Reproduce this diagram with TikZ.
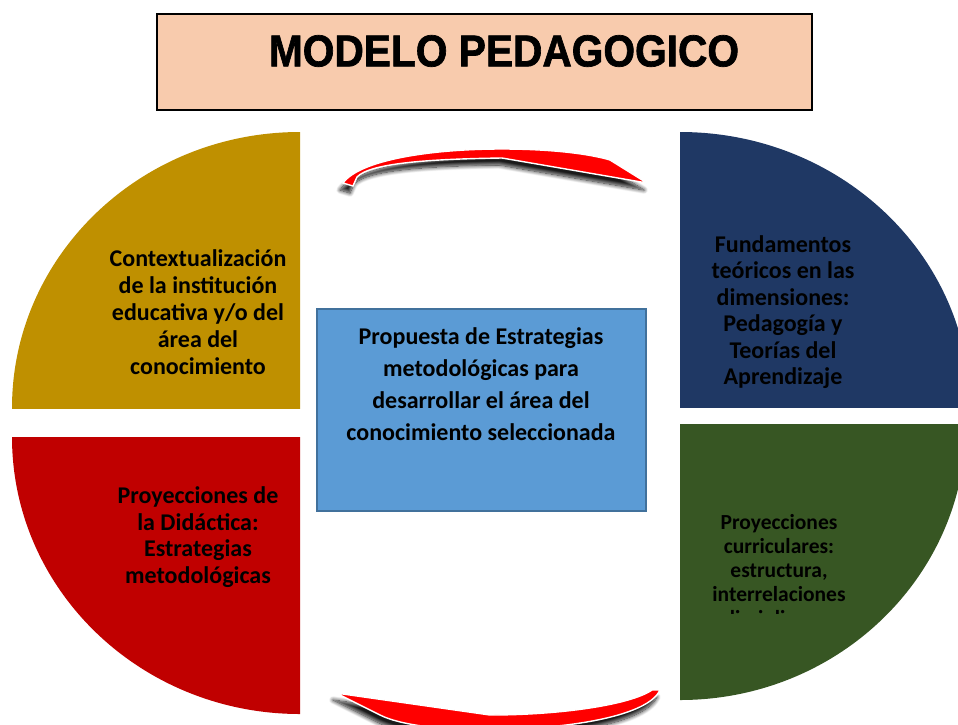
\documentclass[tikz,border=0pt]{standalone}
\usepackage{graphicx}
\usepackage{fontspec}
\setmainfont{Carlito}
\newfontfamily\titlefont[FakeBold=1.6]{Liberation Sans}
\usetikzlibrary{shadows.blur}
\definecolor{quadgold}{HTML}{BF9000}
\definecolor{quadnavy}{HTML}{1F3864}
\definecolor{quadred}{HTML}{C00000}
\definecolor{quadgreen}{HTML}{375623}
\definecolor{peach}{HTML}{F8CBAD}
\definecolor{skyblue}{HTML}{5B9BD5}
\definecolor{skyedge}{HTML}{41719C}
\definecolor{arrowred}{HTML}{FF0000}
\begin{document}
\begin{tikzpicture}[x=1pt,y=-1pt,
  quadtext/.style={align=center, inner sep=0pt, text=black, font=\bfseries\fontsize{24}{27}\selectfont},
  cyclearrow/.style={fill=arrowred, draw=white, line width=1.4pt,
     blur shadow={shadow xshift=-3pt, shadow yshift=-7pt, shadow blur radius=4pt, shadow opacity=90, shadow blur steps=12}}]
\useasboundingbox (0,0) rectangle (958,724);
\begin{scope}
\clip (0,0) rectangle (958,724);
% quarter shapes
\begin{scope}\clip (12,132) rectangle (300,408);
  \fill[quadgold] (300,408) ellipse [x radius=288pt, y radius=276pt];
\end{scope}
\begin{scope}\clip (680,132) rectangle (958,407);
  \fill[quadnavy] (680,407) ellipse [x radius=290pt, y radius=275pt];
\end{scope}
\begin{scope}\clip (12,437) rectangle (300,714);
  \fill[quadred] (300,437) ellipse [x radius=288pt, y radius=277pt];
\end{scope}
\begin{scope}\clip (680,424) rectangle (958,700);
  \fill[quadgreen] (680,424) ellipse [x radius=286pt, y radius=276pt];
\end{scope}
% title
\draw[fill=peach, line width=1.5pt] (157,14) rectangle (812,110);
\node[inner sep=0pt, font=\titlefont\bfseries\fontsize{39.5}{48}\selectfont] (title) at (504,51) {\scalebox{1.03}[1.13]{MODELO PEDAGOGICO}};
% centre box
\node[draw=skyedge, fill=skyblue, line width=1.5pt, minimum width=329pt, minimum height=202pt, inner sep=0pt] (centrebox) at (481.5,410) {};
\node[quadtext, font=\bfseries\fontsize{24}{32}\selectfont] (centretext) at (481,384) {Propuesta de Estrategias\\metodológicas para\\desarrollar el área del\\conocimiento seleccionada};
% texts
\node[quadtext] (goldtext) at (198,312.5) {Contextualización\\de la institución\\educativa y/o del\\área del\\conocimiento};
\node[quadtext, font=\bfseries\fontsize{24}{26.5}\selectfont] (navytext) at (783,312) {Fundamentos\\teóricos en las\\dimensiones:\\Pedagogía y\\Teorías del\\Aprendizaje};
\node[quadtext, font=\bfseries\fontsize{24}{26.5}\selectfont] (redtext) at (198,537) {Proyecciones de\\la Didáctica:\\Estrategias\\metodológicas};
\begin{scope}\clip (680,424) rectangle (958,613);
\node[quadtext, font=\bfseries\fontsize{21.5}{24}\selectfont] (greentext) at (779,572) {Proyecciones\\curriculares:\\estructura,\\interrelaciones\\disciplinares};
\end{scope}
% cycle arrows
\path[cyclearrow] (343,183) .. controls (360,160) and (430,149) .. (502,149)
   .. controls (552,149) and (590,154) .. (610,160) -- (647,183) -- (502,158)
   .. controls (430,159) and (370,163) .. (357,177) -- (353,186) -- cycle;
\path[cyclearrow] (336,693) -- (490,715) .. controls (560,715) and (630,705) .. (652,690)
   -- (660,690) .. controls (650,712) and (590,728) .. (490,730)
   .. controls (440,730) and (400,725) .. (380,715) -- cycle;
\end{scope}
\end{tikzpicture}
\end{document}
